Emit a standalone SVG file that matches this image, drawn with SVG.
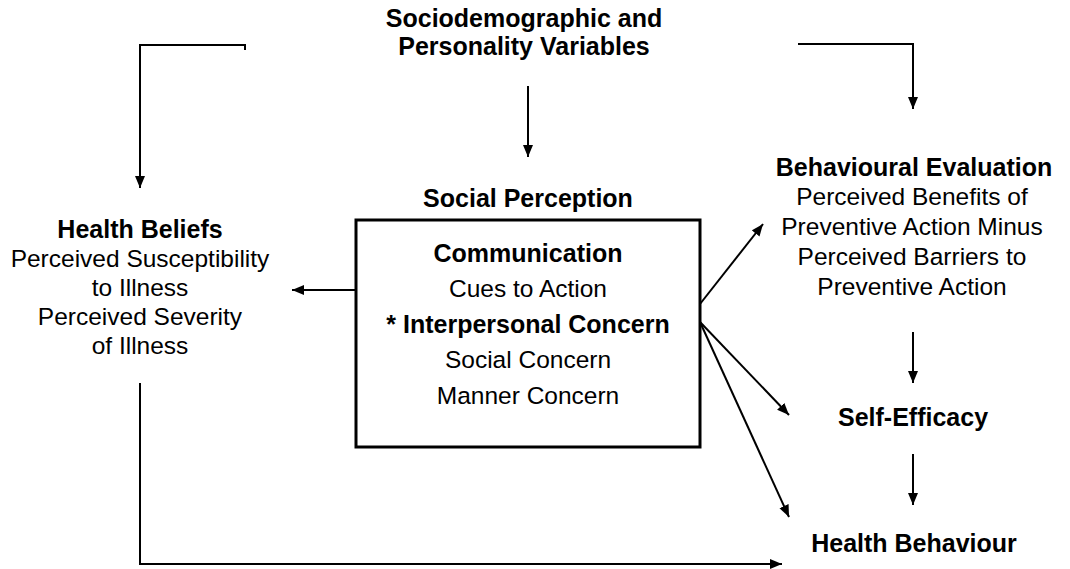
<svg xmlns="http://www.w3.org/2000/svg" width="1070" height="569" viewBox="0 0 1070 569">
<style>
text{font-family:"Liberation Sans",Arial,sans-serif;font-size:24.5px;fill:#000;text-anchor:middle}
.b{font-weight:bold;font-size:25px}
.c{fill:none;stroke:#000;stroke-width:2}
.a{marker-end:url(#ah)}
</style>
<defs>
<marker id="ah" markerUnits="userSpaceOnUse" markerWidth="13" markerHeight="11" refX="12" refY="5" orient="auto">
<path d="M0,0 L12,5 L0,10 z" fill="#000"/>
</marker>
</defs>
<rect width="1070" height="569" fill="#fff"/>
<g id="sociodemographic">
<text class="b" x="524" y="27">Sociodemographic and</text>
<text class="b" x="524" y="55">Personality Variables</text>
</g>
<g id="social-perception">
<text class="b" x="528" y="207">Social Perception</text>
<rect x="356" y="220" width="344" height="227" fill="none" stroke="#000" stroke-width="3"/>
<text class="b" x="528" y="262">Communication</text>
<text x="528" y="297">Cues to Action</text>
<text class="b" x="528" y="333">* Interpersonal Concern</text>
<text x="528" y="368">Social Concern</text>
<text x="528" y="404">Manner Concern</text>
</g>
<g id="health-beliefs">
<text class="b" x="140" y="238">Health Beliefs</text>
<text x="140" y="267">Perceived Susceptibility</text>
<text x="140" y="296">to Illness</text>
<text x="140" y="325">Perceived Severity</text>
<text x="140" y="354">of Illness</text>
</g>
<g id="behavioural-evaluation">
<text class="b" x="914" y="176">Behavioural Evaluation</text>
<text x="912" y="205">Perceived Benefits of</text>
<text x="912" y="235">Preventive Action Minus</text>
<text x="912" y="265">Perceived Barriers to</text>
<text x="912" y="295">Preventive Action</text>
</g>
<g id="self-efficacy">
<text class="b" x="913" y="426">Self-Efficacy</text>
</g>
<g id="health-behaviour">
<text class="b" x="914" y="552">Health Behaviour</text>
</g>
<g id="connectors">
<path class="c a" d="M245,50 V45 H140 V188"/>
<path class="c a" d="M528,86 V157"/>
<path class="c a" d="M798,44 H913 V109"/>
<path class="c a" d="M356,290 H292"/>
<path class="c a" d="M700,304 L763,224"/>
<path class="c a" d="M700,322 L789,415"/>
<path class="c a" d="M700,322 L789,517"/>
<path class="c a" d="M913,332 V383"/>
<path class="c a" d="M913,454 V505"/>
<path class="c a" d="M140,383 V564 H782"/>
</g>
</svg>
